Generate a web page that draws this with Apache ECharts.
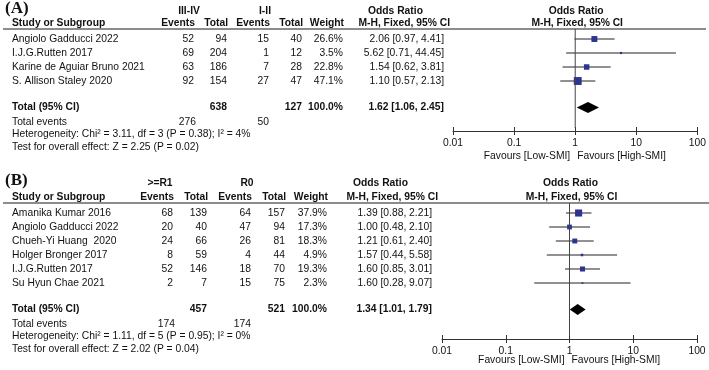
<!DOCTYPE html>
<html><head><meta charset="utf-8">
<script src="https://cdn.jsdelivr.net/npm/echarts@6/dist/echarts.min.js"></script>
<style>html,body{margin:0;padding:0;background:#fff}#c{width:709px;height:370px}</style>
</head><body><div id="c"></div>
<script>
// ---------- Panel A data ----------
const studiesA = ['Angiolo Gadducci 2022','I.J.G.Rutten 2017','Karine de Aguiar Bruno 2021','S. Allison Staley 2020'];
const eventsA1 = [52, 69, 63, 92];
const totalsA1 = [94, 204, 186, 154];
const eventsA2 = [15, 1, 7, 27];
const totalsA2 = [40, 12, 28, 47];
const weightsA = [26.6, 3.5, 22.8, 47.1];
const orA   = [2.06, 5.62, 1.54, 1.10];
const lowA  = [0.97, 0.71, 0.62, 0.57];
const highA = [4.41, 44.45, 3.81, 2.13];
const pooledA = [1.62, 1.06, 2.45];
const sumTotalsA = [638, 127];
const sumEventsA = [276, 50];
const groupsA = ['III-IV', 'I-II'];
const hetA  = 'Heterogeneity: Chi² = 3.11, df = 3 (P = 0.38); I² = 4%';
const testA = 'Test for overall effect: Z = 2.25 (P = 0.02)';
// ---------- Panel B data ----------
const studiesB = ['Amanika Kumar 2016','Angiolo Gadducci 2022','Chueh-Yi Huang  2020','Holger Bronger 2017','I.J.G.Rutten 2017','Su Hyun Chae 2021'];
const eventsB1 = [68, 20, 24, 8, 52, 2];
const totalsB1 = [139, 40, 66, 59, 146, 7];
const eventsB2 = [64, 47, 26, 4, 18, 15];
const totalsB2 = [157, 94, 81, 44, 70, 75];
const weightsB = [37.9, 17.3, 18.3, 4.9, 19.3, 2.3];
const orB   = [1.39, 1.00, 1.21, 1.57, 1.60, 1.60];
const lowB  = [0.88, 0.48, 0.61, 0.44, 0.85, 0.28];
const highB = [2.21, 2.10, 2.40, 5.58, 3.01, 9.07];
const pooledB = [1.34, 1.01, 1.79];
const sumTotalsB = [457, 521];
const sumEventsB = [174, 174];
const groupsB = ['>=R1', 'R0'];
const hetB  = 'Heterogeneity: Chi² = 1.11, df = 5 (P = 0.95); I² = 0%';
const testB = 'Test for overall effect: Z = 2.02 (P = 0.04)';
// ---------- shared labels ----------
const tickLabels = ['0.01', '0.1', '1', '10', '100'];
const colHeaders = ['Study or Subgroup', 'Events', 'Total', 'Events', 'Total', 'Weight'];
const orHeader = ['Odds Ratio', 'M-H, Fixed, 95% CI'];
const favours = ['Favours [Low-SMI]', 'Favours [High-SMI]'];
const totalLabels = ['Total (95% CI)', 'Total events', '100.0%'];

// ---------- layout (positions only) ----------
const ROW = 14;
const panels = [
  { label: '(A)', studies: studiesA, ev1: eventsA1, tot1: totalsA1, ev2: eventsA2, tot2: totalsA2,
    w: weightsA, or: orA, lo: lowA, hi: highA, pooled: pooledA, sumT: sumTotalsA, sumE: sumEventsA,
    groups: groupsA, het: hetA, test: testA,
    grid: { left: 453, right: 11, top: 29, height: 102 }, rowTop: 39,
    cx: { ev1: 194, tot1: 227, ev2: 269, tot2: 302, w: 343, or: 444, mh: 450, orHdr: 368, g1: 189, g2: 265 },
    hdr1: 11, hdr2: 23, labelY: 9, lineRight: 706, favY: 156 },
  { label: '(B)', studies: studiesB, ev1: eventsB1, tot1: totalsB1, ev2: eventsB2, tot2: totalsB2,
    w: weightsB, or: orB, lo: lowB, hi: highB, pooled: pooledB, sumT: sumTotalsB, sumE: sumEventsB,
    groups: groupsB, het: hetB, test: testB,
    grid: { left: 442, right: 12, top: 203, height: 136 }, rowTop: 213,
    cx: { ev1: 173, tot1: 207, ev2: 251, tot2: 285, w: 327, or: 432, mh: 438, orHdr: 353, g1: 160, g2: 247 },
    hdr1: 183, hdr2: 197, labelY: 181, lineRight: 709, favY: 360 }
];

const FONT = "'Liberation Sans', Arial, sans-serif";
const FS = 10.3;
const chart = echarts.init(document.getElementById('c'), null, { renderer: 'canvas' });

const grids = [], xAxes = [], yAxes = [], series = [];
panels.forEach((p, gi) => {
  const n = p.studies.length;
  const yMin = -(p.rowTop - p.grid.top) / ROW;
  const yMax = yMin + p.grid.height / ROW;
  p.yMin = yMin; p.yMax = yMax;
  p.totalRow = n - 1 + 1.9;
  grids.push(Object.assign({ containLabel: false }, p.grid));
  const axBase = {
    type: 'log', logBase: 10, min: 0.01, max: 100, gridIndex: gi, position: 'bottom',
    splitLine: { show: false }, minorTick: { show: false }
  };
  xAxes.push(Object.assign({}, axBase, {
    axisLine: { show: true, onZero: false, lineStyle: { color: '#333', width: 1 } },
    axisTick: { show: true, length: 4, lineStyle: { color: '#333', width: 1 } },
    axisLabel: {
      show: true, margin: 7, color: '#111', fontFamily: FONT, fontSize: FS,
      formatter: v => tickLabels[Math.round(Math.log10(v)) + 2]
    }
  }));
  xAxes.push(Object.assign({}, axBase, {
    axisLine: { show: false, onZero: false },
    axisTick: { show: true, inside: true, length: 4, lineStyle: { color: '#333', width: 1 } },
    axisLabel: { show: false }
  }));
  yAxes.push({ type: 'value', gridIndex: gi, inverse: true, min: yMin, max: yMax, show: false });
  const xi = gi * 2;
  // line of no effect
  series.push({
    type: 'line', xAxisIndex: xi, yAxisIndex: gi, symbol: 'none', silent: true,
    lineStyle: { color: '#444', width: 1 },
    data: [[1, yMin], [1, yMax - 3 / ROW]]
  });
  // study estimates
  series.push({
    type: 'custom', xAxisIndex: xi, yAxisIndex: gi, silent: true,
    encode: { x: 0, y: 1 },
    data: p.or.map((v, i) => [v, i, p.lo[i], p.hi[i], p.w[i]]),
    renderItem: (params, api) => {
      const c = api.coord([api.value(0), api.value(1)]);
      const a = api.coord([api.value(2), api.value(1)]);
      const b = api.coord([api.value(3), api.value(1)]);
      const s = 1.15 * Math.sqrt(api.value(4));
      return { type: 'group', children: [
        { type: 'line', shape: { x1: a[0], y1: a[1], x2: b[0], y2: b[1] }, style: { stroke: '#222', lineWidth: 1 } },
        { type: 'rect', shape: { x: c[0] - s / 2, y: c[1] - s / 2, width: s, height: s }, style: { fill: '#2b3590' } }
      ]};
    }
  });
  // pooled diamond
  series.push({
    type: 'custom', xAxisIndex: xi, yAxisIndex: gi, silent: true,
    encode: { x: 0, y: 1 },
    data: [[p.pooled[0], p.totalRow, p.pooled[1], p.pooled[2]]],
    renderItem: (params, api) => {
      const c = api.coord([api.value(0), api.value(1)]);
      const a = api.coord([api.value(2), api.value(1)]);
      const b = api.coord([api.value(3), api.value(1)]);
      const h = 5.5;
      return { type: 'polygon', shape: { points: [[a[0], c[1]], [c[0], c[1] - h], [b[0], c[1]], [c[0], c[1] + h]] },
        style: { fill: '#000' } };
    }
  });
});

chart.setOption({
  animation: false, backgroundColor: '#fff',
  grid: grids, xAxis: xAxes, yAxis: yAxes, series: series
});

// ---------- table text ----------
const g = [];
function txt(s, x, y, align, bold, extra) {
  g.push({ type: 'text', silent: true, style: Object.assign({
    text: String(s), x: x, y: y, fill: '#111',
    font: (bold ? 'bold ' : '') + FS + 'px ' + FONT,
    textAlign: align, align: align, textVerticalAlign: 'middle', verticalAlign: 'middle'
  }, extra || {}) });
}
const fmt = v => v.toFixed(2);
panels.forEach((p, gi) => {
  const yOf = r => chart.convertToPixel({ yAxisIndex: gi }, r);
  const c = p.cx;
  txt(p.label, 5, p.labelY, 'left', true, { font: "bold 17px 'Liberation Serif', 'Times New Roman', serif" });
  txt(p.groups[0], c.g1, p.hdr1, 'center', true);
  txt(p.groups[1], c.g2, p.hdr1, 'center', true);
  txt(orHeader[0], c.orHdr, p.hdr1, 'left', true);
  const mid = chart.convertToPixel({ xAxisIndex: gi * 2 }, 1);
  txt(orHeader[0], mid + 1, p.hdr1, 'center', true);
  txt(colHeaders[0], 12, p.hdr2, 'left', true);
  txt(colHeaders[1], c.ev1 + 1, p.hdr2, 'right', true);
  txt(colHeaders[2], c.tot1 + 1, p.hdr2, 'right', true);
  txt(colHeaders[3], c.ev2 + 1, p.hdr2, 'right', true);
  txt(colHeaders[4], c.tot2 + 1, p.hdr2, 'right', true);
  txt(colHeaders[5], c.w + 1, p.hdr2, 'right', true);
  txt(orHeader[1], c.mh, p.hdr2, 'right', true);
  txt(orHeader[1], mid + 2, p.hdr2, 'center', true);
  g.push({ type: 'line', silent: true, shape: { x1: 3, y1: p.grid.top, x2: p.lineRight, y2: p.grid.top },
    style: { stroke: '#666', lineWidth: 1.5 } });
  p.studies.forEach((s, i) => {
    const y = yOf(i);
    txt(s, 12, y, 'left');
    txt(p.ev1[i], c.ev1, y, 'right');
    txt(p.tot1[i], c.tot1, y, 'right');
    txt(p.ev2[i], c.ev2, y, 'right');
    txt(p.tot2[i], c.tot2, y, 'right');
    txt(p.w[i].toFixed(1) + '%', c.w, y, 'right');
    txt(fmt(p.or[i]) + ' [' + fmt(p.lo[i]) + ', ' + fmt(p.hi[i]) + ']', c.or, y, 'right');
  });
  const ty = yOf(p.totalRow);
  txt(totalLabels[0], 12, ty, 'left', true);
  txt(p.sumT[0], c.tot1, ty, 'right', true);
  txt(p.sumT[1], c.tot2, ty, 'right', true);
  txt(totalLabels[2], c.w, ty, 'right', true);
  txt(fmt(p.pooled[0]) + ' [' + fmt(p.pooled[1]) + ', ' + fmt(p.pooled[2]) + ']', c.or, ty, 'right', true);
  txt(totalLabels[1], 12, ty + 14.5, 'left');
  txt(p.sumE[0], c.ev1 + 2, ty + 14.5, 'right');
  txt(p.sumE[1], c.ev2, ty + 14.5, 'right');
  txt(p.het, 12, ty + 27, 'left');
  txt(p.test, 12, ty + 39.5, 'left');
  txt(favours[0], mid - 5, p.favY, 'right');
  txt(favours[1], mid + 2, p.favY, 'left');
});
chart.setOption({ graphic: { elements: g } });
</script>
</body></html>
